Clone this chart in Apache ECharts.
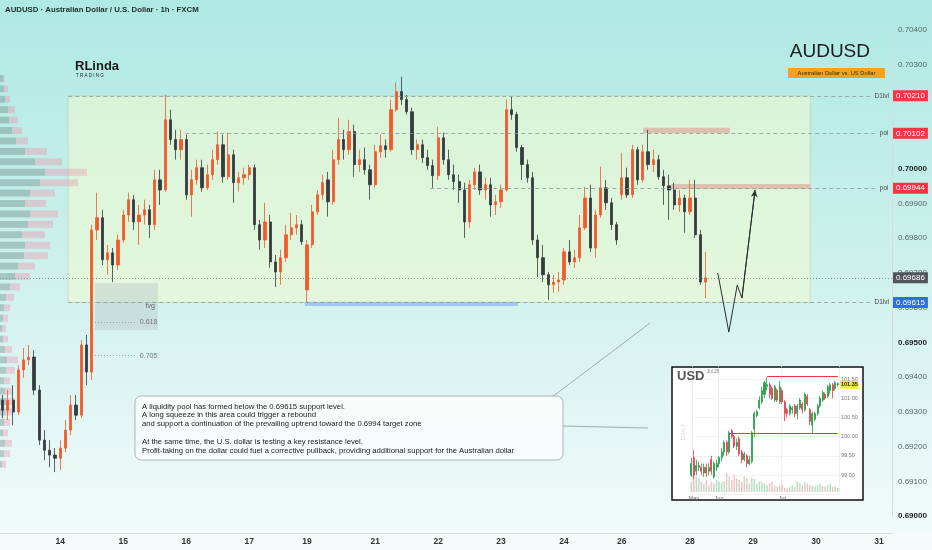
<!DOCTYPE html>
<html><head><meta charset="utf-8">
<script src="https://cdn.jsdelivr.net/npm/echarts@6/dist/echarts.min.js"></script>
<style>html,body{margin:0;padding:0;background:#fff}#c{width:932px;height:550px}</style>
</head><body><div id="c"></div>
<script>
// ---------- main chart data (AUDUSD 2h-ish candles: open, close, low, high) ----------
const slotCount = 170;
const tickLabels = ['14','15','16','17','19','21','22','23','24','26','28','29','30','31'];
const tickSlots  = [11,23,35,47,58,71,83,95,107,118,131,143,155,167];
const candles = [
[0.69334,0.69305,0.69282,0.69349],[0.69305,0.69334,0.69277,0.69363],[0.69334,0.69300,0.69262,0.69377],
[0.69300,0.69421,0.69291,0.69435],[0.69421,0.69450,0.69398,0.69484],[0.69450,0.69458,0.69435,0.69493],
[0.69458,0.69363,0.69349,0.69478],[0.69363,0.69219,0.69205,0.69377],[0.69219,0.69190,0.69161,0.69248],
[0.69190,0.69176,0.69141,0.69219],[0.69176,0.69167,0.69127,0.69196],[0.69167,0.69196,0.69133,0.69219],
[0.69196,0.69248,0.69184,0.69277],[0.69248,0.69320,0.69233,0.69349],[0.69320,0.69291,0.69277,0.69349],
[0.69291,0.69493,0.69282,0.69507],[0.69493,0.69415,0.69377,0.69522],[0.69415,0.69824,0.69392,0.69839],
[0.69824,0.69859,0.69795,0.69931],[0.69859,0.69738,0.69723,0.69882],[0.69738,0.69758,0.69695,0.69781],
[0.69758,0.69723,0.69674,0.69772],[0.69723,0.69795,0.69709,0.69810],[0.69795,0.69867,0.69787,0.69882],
[0.69867,0.69911,0.69847,0.69931],[0.69911,0.69847,0.69824,0.69925],[0.69847,0.69867,0.69781,0.69896],
[0.69867,0.69882,0.69839,0.69911],[0.69882,0.69839,0.69801,0.69896],[0.69839,0.69968,0.69824,0.69997],
[0.69968,0.69939,0.69896,0.69997],[0.69939,0.70141,0.69934,0.70213],[0.70141,0.70084,0.70069,0.70170],
[0.70084,0.70055,0.70026,0.70112],[0.70055,0.70084,0.70026,0.70112],[0.70084,0.69925,0.69911,0.70098],
[0.69925,0.69968,0.69862,0.69997],[0.69968,0.70003,0.69954,0.70026],[0.70003,0.69945,0.69934,0.70026],
[0.69945,0.69983,0.69939,0.70012],[0.69983,0.70026,0.69968,0.70055],[0.70026,0.70069,0.70012,0.70107],
[0.70069,0.69977,0.69960,0.70098],[0.69977,0.70040,0.69968,0.70104],[0.70040,0.69960,0.69902,0.70055],
[0.69960,0.69974,0.69934,0.69991],[0.69974,0.69983,0.69954,0.70003],[0.69983,0.70003,0.69968,0.70012],
[0.70003,0.69839,0.69824,0.70012],[0.69839,0.69795,0.69767,0.69853],[0.69795,0.69847,0.69772,0.69902],
[0.69847,0.69732,0.69715,0.69867],[0.69732,0.69703,0.69660,0.69752],[0.69703,0.69744,0.69666,0.69767],
[0.69744,0.69810,0.69732,0.69839],[0.69810,0.69830,0.69795,0.69873],[0.69830,0.69839,0.69810,0.69867],
[0.69839,0.69790,0.69781,0.69853],[0.69651,0.69781,0.69614,0.69795],[0.69781,0.69876,0.69772,0.69896],
[0.69876,0.69925,0.69867,0.69939],[0.69925,0.69960,0.69911,0.69983],[0.69968,0.69905,0.69862,0.69991],
[0.69905,0.70026,0.69896,0.70055],[0.70026,0.70084,0.70012,0.70147],[0.70084,0.70055,0.70026,0.70112],
[0.70055,0.70107,0.70040,0.70141],[0.70107,0.70012,0.69977,0.70127],[0.70012,0.70026,0.69991,0.70055],
[0.70026,0.69997,0.69983,0.70061],[0.69997,0.69954,0.69911,0.70012],[0.69954,0.70049,0.69945,0.70069],
[0.70049,0.70066,0.70032,0.70098],[0.70066,0.70055,0.70032,0.70084],[0.70055,0.70170,0.70049,0.70199],
[0.70170,0.70222,0.70164,0.70248],[0.70222,0.70199,0.70184,0.70265],[0.70199,0.70164,0.70156,0.70213],
[0.70164,0.70055,0.70040,0.70176],[0.70055,0.70069,0.70026,0.70084],[0.70069,0.70032,0.70017,0.70084],
[0.70032,0.70009,0.69997,0.70055],[0.70009,0.69980,0.69945,0.70026],[0.69980,0.70089,0.69968,0.70121],
[0.70089,0.70026,0.70012,0.70104],[0.70026,0.69983,0.69968,0.70055],[0.69983,0.69963,0.69939,0.70012],
[0.69963,0.69939,0.69902,0.69983],[0.69939,0.69847,0.69801,0.69960],[0.69847,0.69954,0.69830,0.69968],
[0.69954,0.69991,0.69939,0.70003],[0.69991,0.69939,0.69925,0.70012],[0.69939,0.69954,0.69911,0.69974],
[0.69954,0.69896,0.69862,0.69974],[0.69896,0.69905,0.69867,0.69925],[0.69905,0.69939,0.69888,0.69954],
[0.69939,0.70170,0.69934,0.70199],[0.70170,0.70156,0.70141,0.70208],[0.70156,0.70061,0.70049,0.70164],
[0.70061,0.70012,0.69968,0.70069],[0.70012,0.69974,0.69960,0.70026],[0.69974,0.69795,0.69781,0.69991],
[0.69795,0.69744,0.69689,0.69810],[0.69744,0.69695,0.69674,0.69781],[0.69695,0.69666,0.69622,0.69703],
[0.69666,0.69674,0.69643,0.69695],[0.69674,0.69680,0.69646,0.69703],[0.69680,0.69761,0.69666,0.69772],
[0.69761,0.69732,0.69723,0.69795],[0.69732,0.69744,0.69715,0.69767],[0.69744,0.69830,0.69732,0.69867],
[0.69830,0.69916,0.69824,0.69948],[0.69916,0.69772,0.69761,0.69954],[0.69772,0.69867,0.69744,0.69882],
[0.69867,0.69945,0.69859,0.70006],[0.69945,0.69902,0.69882,0.69968],[0.69902,0.69839,0.69824,0.69916],
[0.69839,0.69795,0.69781,0.69847],[0.69925,0.69974,0.69911,0.70046],[0.69974,0.69925,0.69916,0.70003],
[0.69925,0.70055,0.69916,0.70069],[0.70055,0.69968,0.69954,0.70063],[0.69968,0.70049,0.69960,0.70069],
[0.70049,0.70012,0.69997,0.70112],[0.70012,0.70026,0.69991,0.70055],[0.70026,0.69977,0.69968,0.70040],
[0.69977,0.69951,0.69896,0.69997],[0.69951,0.69939,0.69853,0.69983],[0.69939,0.69896,0.69882,0.69960],
[0.69896,0.69916,0.69876,0.69939],[0.69916,0.69876,0.69816,0.69925],[0.69876,0.69916,0.69867,0.69968],
[0.69916,0.69810,0.69801,0.69968],[0.69810,0.69674,0.69666,0.69824],[0.69674,0.69686,0.69628,0.69761]
];
// key levels
const d1High = 0.70210, poiHigh = 0.70102, poiLow = 0.69944, lastPrice = 0.69686, d1Low = 0.69615;
const fib618 = 0.69559, fib705 = 0.69462;
// forecast drawing (slot, price)
const forecastPath = [[136.3,0.69700],[138.4,0.69530],[140.0,0.69665],[140.9,0.69628],[143.4,0.69939]];
// volume profile
const profilePrices = [0.7026,0.7023,0.7020,0.7017,0.7014,0.7011,0.7008,0.7005,0.7002,0.6999,0.6996,0.6993,0.6990,0.6987,0.6984,0.6981,0.6978,0.6975,0.6972,0.6969,0.6966,0.6963,0.6960,0.6957,0.6954,0.6951,0.6948,0.6945,0.6942,0.6939,0.6936,0.6933,0.6930,0.6927,0.6924,0.6921,0.6918,0.6915];
const profileGray = [3,4,5,8,9,12,16,25,35,45,40,30,25,30,28,22,25,24,18,15,10,6,4,3,2,3,5,7,6,4,5,6,5,4,3,5,4,2];
const profilePink = [2,4,5,7,9,10,12,22,27,42,38,25,21,28,25,23,25,24,17,15,10,8,6,5,4,5,7,11,9,6,7,9,7,6,5,7,6,4];

// ---------- inset: USD daily ----------
const usdCandles = [
[99.0,99.3,98.95,99.45],[99.45,99.0,98.9,99.65],[99.1,99.25,99.0,99.4],[99.2,99.25,99.1,99.35],[99.2,99.1,99.0,99.3],
[99.05,99.2,98.95,99.3],[99.2,99.05,98.95,99.3],[99.1,99.2,99.0,99.3],[99.4,99.1,99.0,99.5],[98.95,99.3,98.9,99.35],
[99.2,99.3,99.1,99.4],[99.3,99.45,99.2,99.5],[99.45,99.6,99.35,99.7],[99.6,99.85,99.5,99.9],[99.85,99.6,99.5,99.9],
[99.6,100.1,99.55,100.15],[100.15,100.0,99.95,100.2],[100.0,99.75,99.7,100.05],[99.75,99.85,99.65,99.95],[99.95,99.55,99.5,100.0],
[99.6,99.4,99.3,99.65],[99.4,99.55,99.35,99.6],[99.5,99.3,99.2,99.55],[99.3,99.4,99.25,99.5],[99.35,100.1,99.3,100.15],
[100.2,100.6,100.0,100.65],[100.55,100.65,100.5,100.7],[100.75,100.95,100.7,101.05],[100.9,101.2,100.85,101.3],[101.1,101.4,101.0,101.45],
[101.3,101.35,101.2,101.55],[101.35,101.1,101.0,101.4],[101.25,101.0,100.95,101.3],[100.95,101.3,100.9,101.35],[101.2,100.95,100.9,101.25],
[100.9,101.3,100.85,101.45],[101.2,100.9,100.85,101.25],[100.9,100.6,100.4,100.95],[100.7,100.6,100.5,100.75],[100.6,100.8,100.55,100.85],
[100.7,100.75,100.6,100.8],[100.8,100.6,100.5,100.85],[100.6,100.8,100.45,100.85],[100.75,100.95,100.7,101.0],[100.85,100.7,100.6,100.9],
[100.7,101.1,100.65,101.15],[101.05,100.85,100.8,101.1],[100.7,100.4,100.3,100.75],[100.3,100.6,100.1,100.65],[100.45,100.6,100.4,100.65],
[100.6,100.8,100.55,100.85],[100.8,101.0,100.75,101.05],[100.95,101.15,100.9,101.2],[101.1,101.0,100.95,101.15],[101.05,101.3,101.0,101.35],
[101.2,101.35,101.1,101.4],[101.35,101.2,101.0,101.4],[101.25,101.4,101.2,101.45],[101.35,101.38,101.3,101.4]
];
const usdVolume = [30,60,45,40,30,25,35,20,30,25,35,30,28,32,55,45,35,50,40,35,30,45,40,25,42,38,25,30,30,25,20,25,30,20,15,18,22,12,10,15,20,15,30,25,20,30,25,20,18,15,20,25,18,15,20,25,15,18,12];
const usdMonthLabels = ['May','Jun','Jul'];
const usdMonthSlots = [1,11,36];
const usdResistance = 101.56, usdSupport = 100.1, usdLast = 101.35;

// ---------- build ----------
const cats = Array.from({length: slotCount}, (_, i) => 's' + i);
const dayAt = {}; tickSlots.forEach((s, i) => dayAt[s] = tickLabels[i]);
const usdCats = usdCandles.map((_, i) => 'u' + i);
const monthAt = {}; usdMonthSlots.forEach((s, i) => monthAt[s] = usdMonthLabels[i]);
const FONT = '"Liberation Sans", Arial, sans-serif';

const chart = echarts.init(document.getElementById('c'), null, {renderer: 'canvas'});

const CLEAR = 'rgba(0,0,0,0)';
const dashed = {color: '#8d9b9b', width: 0.8, type: [4, 3]};
const lvlLabel = (t) => ({show: true, formatter: t, position: 'end', distance: 3, fontSize: 6.5, color: '#444', fontFamily: FONT});
const tag = (v, bg) => ({yAxis: v, lineStyle: {color: CLEAR, width: 0.1, type: 'solid'},
  label: {show: true, position: 'end', distance: 1, formatter: v.toFixed(5), backgroundColor: bg, color: '#fff',
          fontSize: 8, fontFamily: FONT, padding: [2, 3, 1, 3]}});

const mainGrid = {left: 0, right: 40, top: 29.75, bottom: 33.75};

const option = {
  animation: false,
  textStyle: {fontFamily: FONT},
  graphic: {elements: [
    {type: 'rect', z: -20, silent: true, shape: {x: 0, y: 0, width: 932, height: 550},
     style: {fill: {type: 'linear', x: 0, y: 0, x2: 0, y2: 1, colorStops: [
       {offset: 0, color: '#aee9e4'}, {offset: 0.45, color: '#cbf0eb'}, {offset: 1, color: '#f4fbfa'}]}}},
    {type: 'rect', z: -19, silent: true, shape: {x: 0, y: 533, width: 932, height: 17}, style: {fill: '#f6fafa'}},
    {type: 'text', z: 20, x: 5, y: 10, style: {text: 'AUDUSD · Australian Dollar / U.S. Dollar · 1h · FXCM',
      font: '600 7.8px ' + FONT, fill: '#1d2b2b', textVerticalAlign: 'middle', verticalAlign: 'middle'}},
    {type: 'text', z: 20, x: 75, y: 66, style: {text: 'RLinda', font: 'bold 13px ' + FONT, fill: '#1a1a1a', textVerticalAlign: 'middle', verticalAlign: 'middle'}},
    {type: 'text', z: 20, x: 76, y: 76, style: {text: 'T R A D I N G', font: '4.5px ' + FONT, fill: '#1a1a1a', textVerticalAlign: 'middle', verticalAlign: 'middle'}},
    {type: 'text', z: 20, x: 870, y: 52, style: {text: 'AUDUSD', font: '19px ' + FONT, fill: '#1b1b1b', textAlign: 'right', align: 'right', textVerticalAlign: 'middle', verticalAlign: 'middle'}},
    {type: 'rect', z: 19, shape: {x: 788, y: 68, width: 97, height: 10}, style: {fill: '#f5a31a'}},
    {type: 'text', z: 20, x: 836.5, y: 73.5, style: {text: 'Australian Dollar vs. US Dollar', font: '5.8px ' + FONT, fill: '#3a2a00', textAlign: 'center', align: 'center', textVerticalAlign: 'middle', verticalAlign: 'middle'}},
    // annotation box
    {type: 'polyline', z: 19, silent: true, shape: {points: [[552, 397], [650, 323]]}, style: {stroke: '#8f9a9a', lineWidth: 0.8, fill: null}},
    {type: 'polyline', z: 19, silent: true, shape: {points: [[561, 426], [648, 428]]}, style: {stroke: '#8f9a9a', lineWidth: 0.8, fill: null}},
    {type: 'rect', z: 19, shape: {x: 135, y: 396, width: 428, height: 64, r: 6}, style: {fill: 'rgba(246,252,251,0.92)', stroke: '#9aa4a4', lineWidth: 0.8}},
    {type: 'text', z: 20, x: 142, y: 402, style: {text:
      'A liquidity pool has formed below the 0.69615 support level.\nA long squeeze in this area could trigger a rebound\nand support a continuation of the prevailing uptrend toward the 0.6994 target zone\n\nAt the same time, the U.S. dollar is testing a key resistance level.\nProfit-taking on the dollar could fuel a corrective pullback, providing additional support for the Australian dollar',
      font: '7.7px ' + FONT, fill: '#222', lineHeight: 8.8}},
    // inset frame
    {type: 'rect', z: -5, shape: {x: 672, y: 367, width: 191, height: 133}, style: {fill: '#ffffff', stroke: '#111', lineWidth: 1.5}},
    {type: 'text', z: 20, x: 677, y: 376, style: {text: 'USD', font: 'bold 13px ' + FONT, fill: '#555', textVerticalAlign: 'middle', verticalAlign: 'middle'}},
    {type: 'text', z: 20, x: 707, y: 372, style: {text: 'Jul 28', font: '4.5px ' + FONT, fill: '#777', textVerticalAlign: 'middle', verticalAlign: 'middle'}},
    {type: 'text', z: 20, x: 683, y: 432, rotation: Math.PI / 2, style: {text: 'DAILY', font: '6px ' + FONT, fill: '#cfd4d4', textAlign: 'center', align: 'center', textVerticalAlign: 'middle', verticalAlign: 'middle'}}
  ]},
  grid: [
    mainGrid,
    Object.assign({}, mainGrid),
    {left: 690, width: 149, top: 359.8, height: 134.4},
    {left: 690, width: 149, top: 468, height: 24}
  ],
  xAxis: [
    {type: 'category', gridIndex: 0, data: cats, boundaryGap: true, offset: 16.75,
     axisLine: {show: true, onZero: false, lineStyle: {color: '#d3dcdc'}}, axisTick: {show: false}, splitLine: {show: false},
     axisLabel: {interval: (i) => dayAt[i] !== undefined, formatter: (v, i) => dayAt[cats.indexOf(v)] || '',
                 fontSize: 8.5, fontWeight: 'bold', color: '#333', margin: 4}},
    {type: 'value', gridIndex: 0, min: -0.5, max: slotCount - 0.5, show: false, axisLine: {show: false, onZero: false}},
    {type: 'value', gridIndex: 1, min: 0, max: 892, show: false, axisLine: {show: false, onZero: false}},
    {type: 'category', gridIndex: 2, data: usdCats, boundaryGap: true,
     axisLine: {show: false}, axisTick: {show: false},
     splitLine: {show: true, interval: (i) => monthAt[i] !== undefined, lineStyle: {color: '#e2e2e2', type: 'dotted'}},
     axisLabel: {interval: (i) => monthAt[i] !== undefined, formatter: (v) => monthAt[usdCats.indexOf(v)] || '', fontSize: 5.5, color: '#666', margin: 1}},
    {type: 'category', gridIndex: 3, data: usdCats, show: false}
  ],
  yAxis: [
    {type: 'value', gridIndex: 0, position: 'right', min: 0.690, max: 0.704, interval: 0.001,
     axisLine: {show: true, onZero: false, lineStyle: {color: '#d3dcdc'}}, axisTick: {show: false}, splitLine: {show: false},
     axisLabel: {margin: 6, fontSize: 8, color: '#5a6666',
       formatter: (v) => (Math.round(v * 1000) % 5 === 0 ? '{b|' + v.toFixed(5) + '}' : v.toFixed(5)),
       rich: {b: {fontSize: 8, fontWeight: 'bold', color: '#222'}}}},
    {type: 'value', gridIndex: 1, position: 'right', min: 0.690, max: 0.704, show: false,
     axisLine: {show: false, onZero: false}, splitLine: {show: false}},
    {type: 'value', gridIndex: 2, position: 'right', min: 98.5, max: 102, interval: 0.5,
     axisLine: {show: false}, axisTick: {show: false},
     splitLine: {show: true, lineStyle: {color: '#e6e6e6', type: 'dotted'}},
     axisLabel: {showMinLabel: false, showMaxLabel: false, margin: 2, fontSize: 5.5, color: '#777', formatter: (v) => v.toFixed(2)}},
    {type: 'value', gridIndex: 3, min: 0, max: 70, show: false}
  ],
  series: [
    {type: 'custom', name: 'profile', xAxisIndex: 2, yAxisIndex: 1, z: 1, silent: true,
     data: profilePrices.map((p, i) => [p, profileGray[i], profilePink[i]]),
     encode: {x: [1, 2], y: 0},
     renderItem: (params, api) => {
       const p = api.value(0), g = api.value(1), k = api.value(2);
       const a = api.coord([0, p]), b = api.coord([g, p]), c = api.coord([g + k, p]);
       const h = api.size([0, 0.0002])[1];
       return {type: 'group', children: [
         {type: 'rect', shape: {x: a[0], y: a[1] - h / 2, width: b[0] - a[0], height: h}, style: {fill: 'rgba(105,135,130,0.40)'}},
         {type: 'rect', shape: {x: b[0], y: a[1] - h / 2, width: c[0] - b[0], height: h}, style: {fill: 'rgba(238,150,172,0.40)'}}
       ]};
     }},
    {type: 'line', name: 'zones', xAxisIndex: 1, yAxisIndex: 0, data: [], z: 1, silent: true,
     markArea: {silent: true, data: [
       [{xAxis: 12.5, yAxis: d1High, itemStyle: {color: 'rgba(242,252,205,0.55)', borderColor: 'rgba(150,170,120,0.7)', borderWidth: 0.8, borderType: 'dotted'}},
        {xAxis: 153.9, yAxis: d1Low}],
       [{xAxis: 17.6, yAxis: 0.69671, itemStyle: {color: 'rgba(185,200,200,0.45)'},
         label: {show: true, position: 'insideRight', formatter: 'fvg', fontSize: 7, color: '#666', distance: 3}},
        {xAxis: 29.6, yAxis: 0.69536}],
       [{xAxis: 122.1, yAxis: 0.70118, itemStyle: {color: 'rgba(222,150,140,0.55)'}}, {xAxis: 138.6, yAxis: 0.70103}],
       [{xAxis: 127.4, yAxis: 0.69956, itemStyle: {color: 'rgba(222,150,140,0.55)'}}, {xAxis: 153.9, yAxis: 0.69942}],
       [{xAxis: 57.6, yAxis: 0.69617, itemStyle: {color: '#a4c6f2'}}, {xAxis: 98.2, yAxis: 0.69605}]
     ]},
     markLine: {silent: true, symbol: 'none', precision: 5, data: [
       [{coord: [12.5, d1High], lineStyle: dashed, label: lvlLabel('D1lvl')}, {coord: [165.6, d1High]}],
       [{coord: [34.8, poiHigh], lineStyle: dashed, label: lvlLabel('poi')}, {coord: [166.6, poiHigh]}],
       [{coord: [81.5, poiLow], lineStyle: dashed, label: lvlLabel('poi')}, {coord: [166.6, poiLow]}],
       [{coord: [12.5, d1Low], lineStyle: dashed, label: lvlLabel('D1lvl')}, {coord: [165.6, d1Low]}],
       [{coord: [-0.5, lastPrice], lineStyle: {color: '#7d8585', width: 0.8, type: [1, 2]}, label: {show: false}}, {coord: [169.5, lastPrice]}],
       [{coord: [17.6, fib618], lineStyle: {color: '#8d9999', width: 0.8, type: [1, 2]},
         label: {show: true, formatter: '0.618', position: 'end', distance: 5, fontSize: 7, color: '#777'}}, {coord: [25.2, fib618]}],
       [{coord: [17.6, fib705], lineStyle: {color: '#8d9999', width: 0.8, type: [1, 2]},
         label: {show: true, formatter: '0.705', position: 'end', distance: 5, fontSize: 7, color: '#777'}}, {coord: [25.2, fib705]}]
     ]}},
    {type: 'candlestick', name: 'AUDUSD', xAxisIndex: 0, yAxisIndex: 0, z: 3, data: candles, barWidth: '52%',
     itemStyle: {color: '#f2592b', color0: '#353b3e', borderColor: '#f2592b', borderColor0: '#353b3e', borderWidth: 0.8},
     markLine: {silent: true, symbol: 'none', precision: 5, z: 10, data: [
       tag(d1High, '#f23645'), tag(poiHigh, '#f23645'), tag(poiLow, '#f23645'), tag(lastPrice, '#50565c'), tag(d1Low, '#2f6df0')
     ]}},
    {type: 'line', name: 'forecast', xAxisIndex: 1, yAxisIndex: 0, z: 6, data: forecastPath, symbol: 'none',
     lineStyle: {color: '#2b2f31', width: 1}, silent: true,
     markLine: {silent: true, symbol: ['none', 'arrow'], symbolSize: [5, 7], precision: 5, data: [
       [{coord: forecastPath[3], lineStyle: {color: '#2b2f31', width: 1, type: 'solid'}, label: {show: false}},
        {coord: forecastPath[4]}]
     ]}},
    {type: 'candlestick', name: 'USD', xAxisIndex: 3, yAxisIndex: 2, z: 8, data: usdCandles, barWidth: '60%',
     itemStyle: {color: '#22a046', color0: '#e8394f', borderColor: '#22a046', borderColor0: '#e8394f', borderWidth: 0.8},
     markLine: {silent: true, symbol: 'none', precision: 2, data: [
       [{coord: [30, usdResistance], lineStyle: {color: '#e8394f', width: 1, type: 'solid'}, label: {show: false}}, {coord: [58, usdResistance]}],
       [{coord: [15, usdSupport], lineStyle: {color: '#3d6fe0', width: 1.2, type: 'solid'}, label: {show: false}}, {coord: [58, usdSupport]}],
       {yAxis: usdLast, lineStyle: {color: CLEAR, width: 0.1, type: 'solid'},
        label: {show: true, position: 'end', distance: 1, formatter: usdLast.toFixed(2), backgroundColor: '#f2ec3a', color: '#222', fontSize: 5.5, fontWeight: 'bold', padding: [1, 1]}}
     ]}},
    {type: 'bar', name: 'USD vol', xAxisIndex: 4, yAxisIndex: 3, z: 7, barWidth: '60%', silent: true,
     data: usdVolume.map((v, i) => ({value: v, itemStyle: {color: usdCandles[i][1] >= usdCandles[i][0] ? 'rgba(34,160,70,0.32)' : 'rgba(232,57,79,0.32)'}}))}
  ]
};
chart.setOption(option);
</script>
</body></html>
